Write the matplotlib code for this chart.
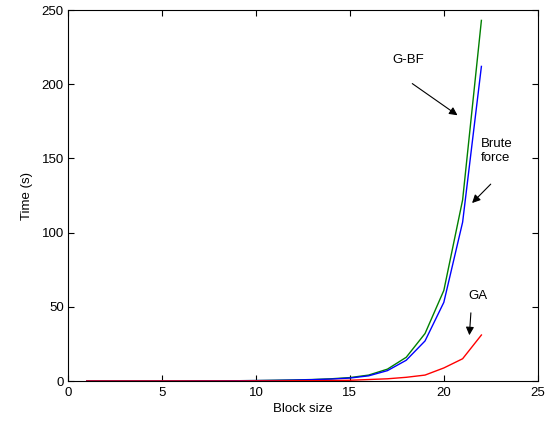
import numpy as np
import matplotlib.pyplot as plt

plt.rcParams['font.family'] = ['Liberation Sans', 'DejaVu Sans']

block_size = list(range(1, 23))
gbf_time = [0, 0, 0, 0, 0, 0, 0.1, 0.1, 0.2, 0.3, 0.5, 0.7, 1.0, 1.5, 2.3, 4, 8, 16, 32, 61, 122, 243]
brute_time = [0, 0, 0, 0, 0, 0, 0.1, 0.1, 0.2, 0.3, 0.4, 0.6, 0.9, 1.3, 2, 3.5, 7, 14, 27, 53, 107, 212]
ga_time = [0, 0, 0, 0, 0, 0, 0, 0, 0, 0.1, 0.1, 0.2, 0.2, 0.3, 0.5, 1, 1.5, 2.5, 4, 8.8, 15, 31]

fs = 9.5
fig = plt.figure(figsize=(5.51, 4.26), dpi=100)
ax = fig.add_axes([0.1234, 0.1056, 0.8526, 0.8709])

ax.plot(block_size, gbf_time, color='green', lw=1)
ax.plot(block_size, brute_time, color='blue', lw=1)
ax.plot(block_size, ga_time, color='red', lw=1)

ax.set_xlim(0, 25)
ax.set_ylim(0, 250)
ax.set_xticks([0, 5, 10, 15, 20, 25])
ax.set_yticks([0, 50, 100, 150, 200, 250])
ax.tick_params(direction='in', top=True, right=True, labelsize=fs, length=4)
ax.tick_params(axis='x', pad=4)
ax.tick_params(axis='y', pad=3)
ax.set_xlabel('Block size', fontsize=fs, labelpad=3)
ax.set_ylabel('Time (s)', fontsize=fs, labelpad=6)

arrow = dict(arrowstyle='-|>', color='black', lw=0.8, mutation_scale=12)
ax.annotate('', xy=(20.85, 178), xytext=(18.2, 201.5), arrowprops=arrow)
ax.text(18.1, 216, 'G-BF', fontsize=fs, ha='center', va='center')
ax.annotate('', xy=(21.4, 118.6), xytext=(22.6, 134), arrowprops=arrow)
ax.text(21.95, 155, 'Brute\nforce', fontsize=fs, ha='left', va='center', linespacing=1.2)
ax.annotate('', xy=(21.35, 29), xytext=(21.45, 47.8), arrowprops=arrow)
ax.text(21.8, 57, 'GA', fontsize=fs, ha='center', va='center')

fig.savefig('out.png')
